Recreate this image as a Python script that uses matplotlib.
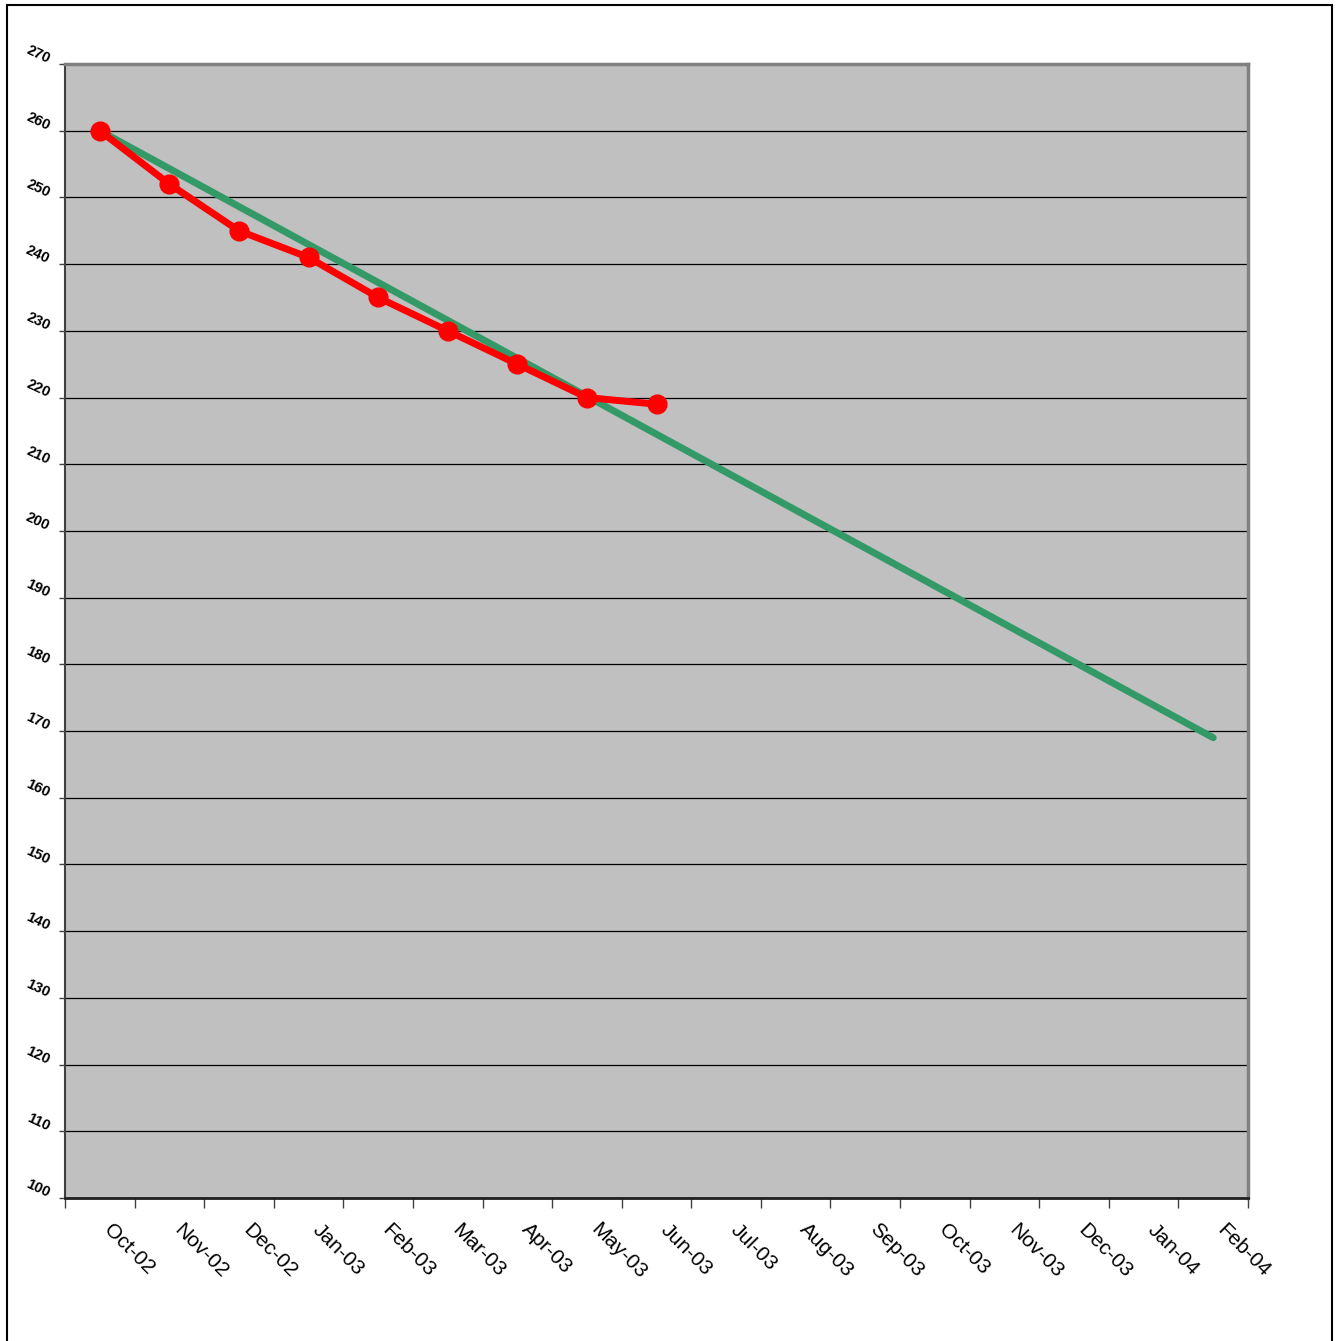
import matplotlib
matplotlib.use("Agg")
import matplotlib.pyplot as plt
from matplotlib.transforms import ScaledTranslation
from matplotlib.patches import Rectangle

plt.rcParams['font.family'] = ['Liberation Sans', 'DejaVu Sans']

months = ["Oct-02", "Nov-02", "Dec-02", "Jan-03", "Feb-03", "Mar-03", "Apr-03",
          "May-03", "Jun-03", "Jul-03", "Aug-03", "Sep-03", "Oct-03", "Nov-03",
          "Dec-03", "Jan-04", "Feb-04"]
actual = [260, 252, 245, 241, 235, 230, 225, 220, 219]
target_months = ["Oct-02", "Feb-04"]
target = [260, 169]
y_ticks = list(range(100, 271, 10))

fig = plt.figure(figsize=(13.38, 13.41), dpi=100)
fig.patch.set_facecolor("white")

# outer chart frame
fig.patches.append(Rectangle((7 / 1338, -0.01), (1332 - 7) / 1338, 1 - 5 / 1341 + 0.01,
                             transform=fig.transFigure, fill=False,
                             edgecolor="black", linewidth=1.5))

ax = fig.add_axes([65 / 1338, 1 - 1198 / 1341, (1248 - 65) / 1338, (1198 - 64) / 1341])
ax.set_facecolor("#C0C0C0")

idx = {m: i for i, m in enumerate(months)}
ax.plot([idx[m] for m in target_months], target, color="#339966", linewidth=5,
        solid_capstyle="round", zorder=3)
ax.plot(range(len(actual)), actual, color="#FF0000", linewidth=5,
        marker="o", markersize=13.5, zorder=4)

ax.set_xlim(-0.5, len(months) - 0.5)
ax.set_ylim(100, 270)

for y in y_ticks:
    ax.axhline(y, color="black", linewidth=0.9, zorder=1)

# spines
for s in ("top", "right"):
    ax.spines[s].set_color("#808080")
    ax.spines[s].set_linewidth(2.5)
ax.spines["left"].set_color("#404040")
ax.spines["left"].set_linewidth(1.5)
ax.spines["bottom"].set_color("#202020")
ax.spines["bottom"].set_linewidth(2)

# y axis: ticks with small rotated bold labels
ax.set_yticks(y_ticks)
ax.set_yticklabels([])
ax.tick_params(axis="y", direction="out", length=4, width=1, color="#404040")
ylab_off = ScaledTranslation(-16 / 100, 4 / 100, fig.dpi_scale_trans)
for y in y_ticks:
    ax.text(0, y, str(y), transform=ax.get_yaxis_transform() + ylab_off,
            ha="right", va="center", rotation=-25, rotation_mode="anchor",
            fontsize=10.5, fontweight="bold")

# x axis: boundary ticks, diagonal month labels at category centres
ax.set_xticks([i - 0.5 for i in range(len(months) + 1)])
ax.set_xticklabels([])
ax.tick_params(axis="x", direction="out", length=7, width=1, color="#404040")
xlab_off = ScaledTranslation(14 / 100, -22 / 100, fig.dpi_scale_trans)
for i, m in enumerate(months):
    ax.text(i, 0, m, transform=ax.get_xaxis_transform() + xlab_off,
            ha="left", va="top", rotation=-45, rotation_mode="anchor",
            fontsize=15)

fig.savefig("out.png", dpi=100, facecolor="white")
